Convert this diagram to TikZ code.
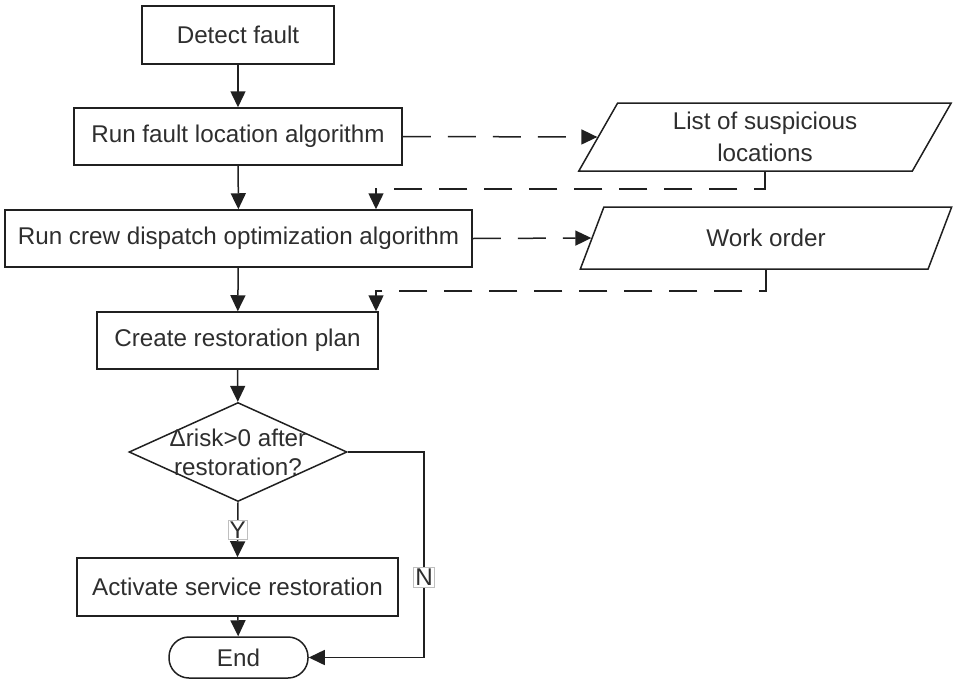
\documentclass[tikz,border=0pt]{standalone}
\usepackage{fontspec}
\setmainfont{Liberation Sans}
\usetikzlibrary{arrows.meta,shapes.geometric}

\definecolor{ink}{HTML}{202020}
\definecolor{txt}{HTML}{2E2E2E}

\tikzset{
  every node/.style={font=\fontsize{24.2pt}{29pt}\selectfont, text=txt},
  procbox/.style={draw=ink, line width=1.5pt, rectangle, inner sep=0pt, align=center},
  iobox/.style={draw=ink, line width=1.5pt, trapezium, trapezium left angle=64,
    trapezium right angle=116, trapezium stretches=true, inner sep=0pt, align=center},
  termbox/.style={draw=ink, line width=1.5pt, rectangle, rounded corners=20pt, inner sep=0pt},
  decbox/.style={draw=ink, line width=1.5pt, diamond, inner sep=0pt},
  flow/.style={draw=ink, line width=1.5pt, -{Triangle[width=15pt,length=16pt]}},
  dataflow/.style={flow, dash pattern=on 28pt off 17pt},
  branchlbl/.style={fill=white, draw=black!25, line width=0.6pt, inner sep=1.5pt}
}

\begin{document}
\begin{tikzpicture}[x=1pt, y=-1pt]
  \useasboundingbox (0,0) rectangle (953,683);

  % main process column
  \node[procbox, minimum width=192pt, minimum height=58pt] (detect) at (238,35) {Detect fault};
  \node[procbox, minimum width=328pt, minimum height=57pt] (locate) at (238,136.5) {Run fault location algorithm};
  \node[procbox, minimum width=467pt, minimum height=57pt] (crew) at (238.5,238.5) {Run crew dispatch optimization algorithm};
  \node[procbox, minimum width=281pt, minimum height=57pt] (plan) at (237.5,340.5) {Create restoration plan};
  \node[decbox, minimum width=218pt, minimum height=99pt] (risk) at (238,452) {};
  \node[align=center] (risktext) at (238,452) {Δrisk>0 after\\restoration?};
  \node[procbox, minimum width=321pt, minimum height=58pt] (activate) at (237.5,587) {Activate service restoration};
  \node[termbox, minimum width=139pt, minimum height=41pt] (end) at (238.5,657.5) {End};

  % data produced by the algorithms
  \node[iobox, minimum width=373pt, minimum height=68pt, font=\fontsize{24.2pt}{32pt}\selectfont] (suspects) at (765,137) {List of suspicious\\locations};
  \node[iobox, minimum width=372pt, minimum height=62pt] (workorder) at (766,238) {Work order};

  % routing points
  \coordinate (back1) at (376,189);
  \coordinate (back2) at (376,291);
  \coordinate (nroute) at (424,452);

  % solid flow
  \draw[flow] (detect) -- (locate);
  \draw[flow] (locate) -- (crew);
  \draw[flow] (crew) -- (plan);
  \draw[flow] (plan) -- (risk);
  \draw[flow] (risk.south) -- node[branchlbl] (ylbl) {Y} (activate.north);
  \draw[flow] (activate) -- (end);
  \draw[flow] (risk.east) -- (nroute) |- node[pos=0.305, branchlbl] (nlbl) {N} (end.east);

  % dashed data flow
  \draw[dataflow] (locate.east) -- (suspects.west);
  \draw[dataflow] (suspects.south) |- (back1) -- (back1 |- crew.north);
  \draw[dataflow] (crew.east) -- (workorder.west);
  \draw[dataflow] (workorder.south) |- (back2) -- (back2 |- plan.north);
\end{tikzpicture}
\end{document}
